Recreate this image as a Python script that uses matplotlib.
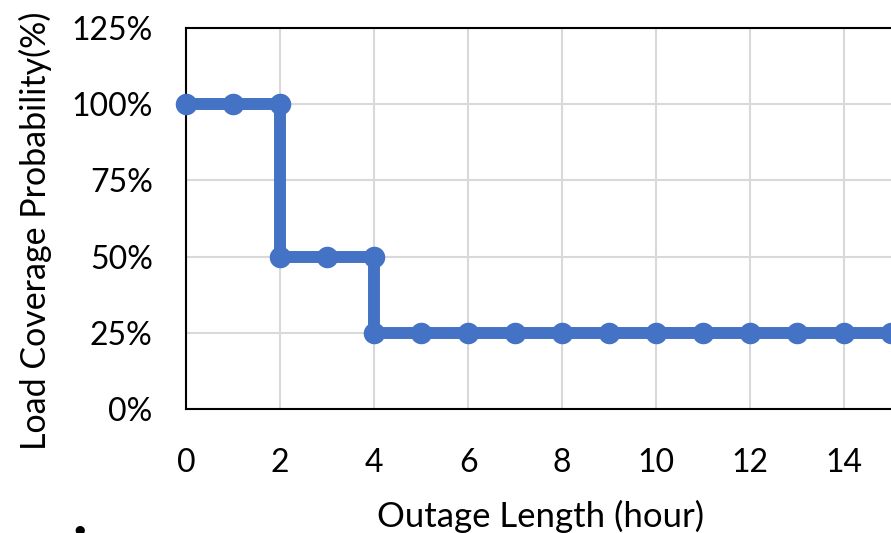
import matplotlib
matplotlib.use("Agg")
import matplotlib.pyplot as plt
from matplotlib.ticker import PercentFormatter

plt.rcParams['font.family'] = ['Lato', 'DejaVu Sans']

# outage length (hour) and load coverage probability (%)
hours = [0, 1, 2, 2, 3, 4, 4, 5, 6, 7, 8, 9, 10, 11, 12, 13, 14, 15]
coverage = [100, 100, 100, 50, 50, 50, 25, 25, 25, 25, 25, 25, 25, 25, 25, 25, 25, 25]

x_ticks = [0, 2, 4, 6, 8, 10, 12, 14]
y_ticks = [0, 25, 50, 75, 100, 125]

W, H = 891, 533
fig = plt.figure(figsize=(W / 100, H / 100), dpi=100)
ax = fig.add_axes([186 / W, 1 - 409 / H, (896 - 186) / W, (409 - 28) / H])

ax.plot(hours, coverage, color='#4472C4', linewidth=8.6, marker='o',
        markersize=14.5, clip_on=False, zorder=3, solid_joinstyle='miter')

ax.set_xlim(0, 15.1)
ax.set_ylim(0, 125)
ax.set_xticks(x_ticks)
ax.set_yticks(y_ticks)
ax.yaxis.set_major_formatter(PercentFormatter(decimals=0))
ax.grid(True, color='#D9D9D9', linewidth=1.5)
ax.set_axisbelow(True)

for s in ['left', 'bottom', 'top']:
    ax.spines[s].set_color('black')
    ax.spines[s].set_linewidth(1.5)
ax.spines['right'].set_visible(False)

ax.tick_params(axis='y', length=0, labelsize=23, pad=24)
ax.tick_params(axis='x', length=0, labelsize=23, pad=28)

fig.text(541 / W, 1 - 516 / H, 'Outage Length (hour)', fontsize=25,
         ha='center', va='center')
fig.text(35 / W, 1 - 231 / H, 'Load Coverage Probability(%)', fontsize=24.5,
         rotation=90, ha='center', va='center')
fig.text(80 / W, 1 - 535 / H, '.', fontsize=44, fontweight='bold',
         ha='center', va='baseline')

fig.savefig('out.png', dpi=100)
